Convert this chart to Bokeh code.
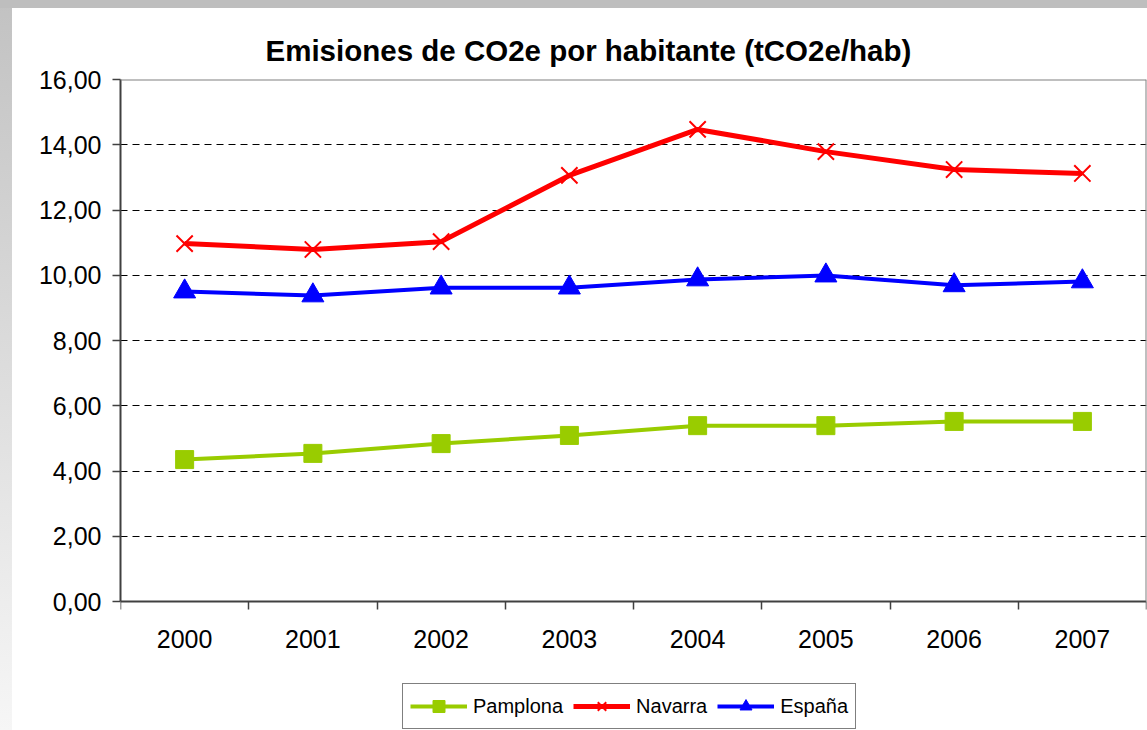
from bokeh.plotting import figure
from bokeh.models import (Range1d, FixedTicker, CustomJSTickFormatter, Legend,
                          LegendItem, LinearAxis, Span)
from bokeh.embed import file_html
from bokeh.resources import INLINE

# ---- data ----
years = ["2000", "2001", "2002", "2003", "2004", "2005", "2006", "2007"]
pamplona = [4.35, 4.54, 4.84, 5.09, 5.39, 5.39, 5.52, 5.52]
navarra = [10.97, 10.79, 11.03, 13.06, 14.47, 13.79, 13.24, 13.12]
espana = [9.50, 9.38, 9.62, 9.62, 9.87, 9.99, 9.69, 9.81]
y_ticks = [0, 2, 4, 6, 8, 10, 12, 14, 16]
title_text = "Emisiones de CO2e por habitante (tCO2e/hab)"
series_names = ["Pamplona", "Navarra", "España"]

FONT = "Liberation Sans"

# layout (pixels)
W, H = 1147, 730
LEFT, RIGHT, TOP = 120, 1, 79
PLOT_BOTTOM = 601          # pixel row of the value 0
ymin, ymax = y_ticks[0], y_ticks[-1]
px_per_unit = (PLOT_BOTTOM - TOP) / (ymax - ymin)
y_low = ymin - (H - PLOT_BOTTOM) / px_per_unit   # room below the axis for labels/legend

xs = [i + 0.5 for i in range(len(years))]

p = figure(width=W, height=H, output_backend="svg", toolbar_location=None,
           x_range=Range1d(0, len(years)), y_range=Range1d(y_low, ymax),
           min_border_left=LEFT, min_border_right=RIGHT, min_border_top=TOP,
           min_border_bottom=0)

p.background_fill_color = "white"
p.border_fill_color = "white"
p.border_fill_alpha = 0.0
p.styles = {"background": "linear-gradient(#bebebe,#bebebe) top left/100% 8px no-repeat, "
                          "linear-gradient(#c2c2c2,#f6f6f6) top left/12px 100% no-repeat, #ffffff"}
p.outline_line_color = None

# title
p.title.text = title_text
p.title.text_font = FONT
p.title.text_font_style = "bold"
p.title.text_font_size = "29.5px"
p.title.text_color = "black"
p.title.align = "left"
p.title.offset = 145
p.title.standoff = 26

# x axis (sits on the value 0)
xa = p.xaxis[0]
xa.fixed_location = ymin
xa.ticker = FixedTicker(ticks=xs, minor_ticks=list(range(len(years) + 1)))
xa.formatter = CustomJSTickFormatter(args=dict(labels=years),
                                     code="return labels[Math.floor(tick)]")
xa.major_tick_out = 0
xa.major_tick_in = 0
xa.minor_tick_out = 8
xa.minor_tick_in = 0
xa.minor_tick_line_color = "#404040"
xa.minor_tick_line_width = 1.5
xa.axis_line_color = "#404040"
xa.axis_line_width = 2
xa.major_label_text_font = FONT
xa.major_label_text_font_size = "25px"
xa.major_label_text_color = "black"
xa.major_label_standoff = 20

# y axis
ya = p.yaxis[0]
ya.bounds = (ymin, ymax)
ya.ticker = FixedTicker(ticks=y_ticks)
ya.formatter = CustomJSTickFormatter(code="return tick.toFixed(2).replace('.', ',')")
ya.major_tick_out = 8
ya.major_tick_in = 0
ya.minor_tick_out = 0
ya.minor_tick_in = 0
ya.major_tick_line_color = "#404040"
ya.major_tick_line_width = 1.5
ya.axis_line_color = "#404040"
ya.axis_line_width = 2
ya.major_label_text_font = FONT
ya.major_label_text_font_size = "25px"
ya.major_label_text_color = "black"
ya.major_label_standoff = 11

# plot-area border on the right and on top
ra = LinearAxis(fixed_location=len(years), bounds=(ymin, ymax),
                ticker=FixedTicker(ticks=[]), axis_line_color="#808080",
                axis_line_width=2, major_label_text_font_size="0px",
                major_tick_out=0, major_tick_in=0, minor_tick_out=0, minor_tick_in=0)
p.add_layout(ra, "right")
p.add_layout(Span(location=ymax, dimension="width", line_color="#808080", line_width=2))

# grid
p.xgrid.visible = False
p.ygrid.ticker = FixedTicker(ticks=y_ticks[1:-1])
p.ygrid.grid_line_color = "black"
p.ygrid.grid_line_dash = "7 5"
p.ygrid.grid_line_width = 1

# series
l1 = p.line(xs, pamplona, line_color="#99cc00", line_width=4)
m1 = p.scatter(xs, pamplona, marker="square", size=18, fill_color="#99cc00",
               line_color="#99cc00")
l2 = p.line(xs, navarra, line_color="#ff0000", line_width=5)
m2 = p.scatter(xs, navarra, marker="x", size=23, line_color="#ff0000", line_width=2)
l3 = p.line(xs, espana, line_color="#0000ff", line_width=4)
m3 = p.scatter(xs, espana, marker="triangle", size=22, fill_color="#0000ff",
               line_color="#0000ff")

legend = Legend(items=[LegendItem(label=series_names[0], renderers=[l1, m1]),
                       LegendItem(label=series_names[1], renderers=[l2, m2]),
                       LegendItem(label=series_names[2], renderers=[l3, m3])],
                location=(282, 1), orientation="horizontal", margin=0)
legend.label_text_font = FONT
legend.label_text_font_size = "20px"
legend.label_text_color = "black"
legend.glyph_width = 57
legend.glyph_height = 30
legend.label_standoff = 6
legend.spacing = 10
legend.padding = 7
legend.border_line_color = "black"
legend.border_line_width = 1.5
legend.background_fill_color = "white"
legend.background_fill_alpha = 1.0
p.add_layout(legend)

html = file_html(p, INLINE)
html = html.replace("<body>", '<body style="margin:0;">', 1)
open("out.html", "w").write(html)
